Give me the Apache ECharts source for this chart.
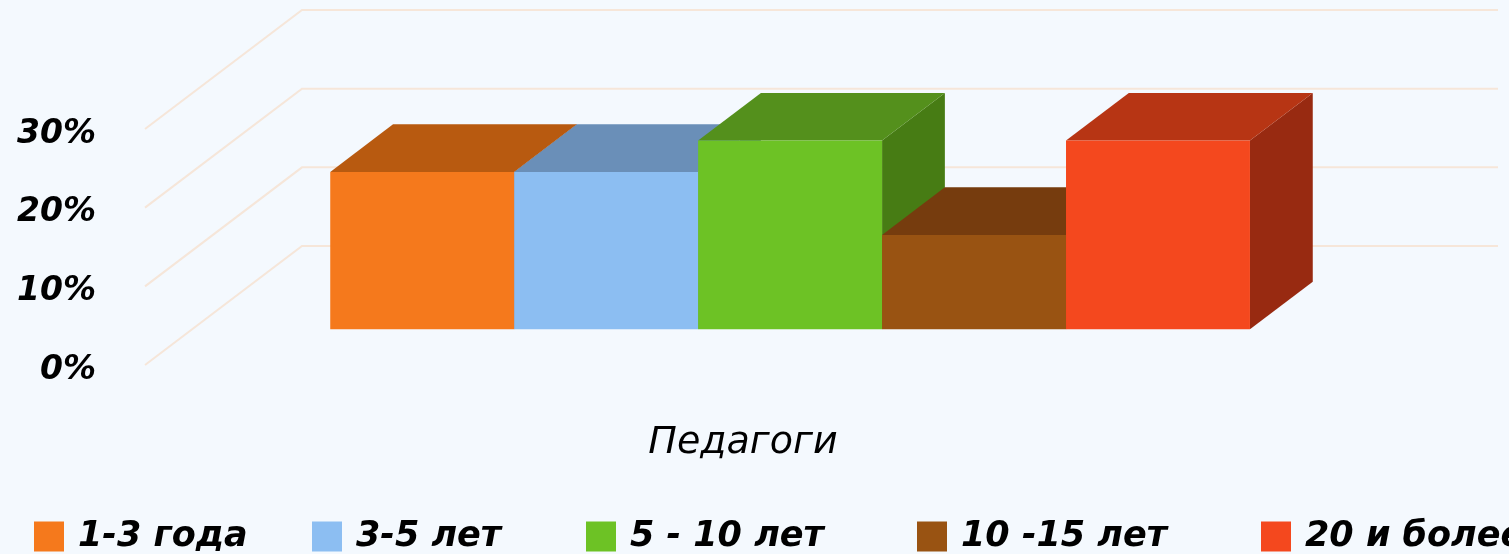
<!DOCTYPE html>
<html>
<head>
<meta charset="utf-8">
<style>
  html, body { margin: 0; padding: 0; background: #f4f9fe; overflow: hidden; }
  #main { width: 1509px; height: 554px; }
</style>
<script src="https://cdn.jsdelivr.net/npm/echarts@6/dist/echarts.min.js"></script>
</head>
<body>
<div id="main"></div>
<script>
// данные
let categories = ['Педагоги'];
let seriesNames = ['1-3 года', '3-5 лет', '5 - 10 лет', '10 -15 лет', '20 и более'];
let seriesValues = [20, 20, 24, 12, 24];
let tickValues = [0, 10, 20, 30];

// цвета граней
let frontColors = ['#f5791c', '#8cbef2', '#6dc225', '#995312', '#f4481e'];
let topColors = ['#b85a10', '#6a8fb8', '#54901c', '#763c0e', '#b73514'];
let sideColors = ['#a94f0e', '#5f82a8', '#477c14', '#6a360c', '#982a11'];
let legendLeft = [34, 312, 586, 917, 1261];

const FONT = '"DejaVu Sans"';
const WALL_DX = 157, WALL_DY = 119;
const BAR_FRONT = 0.3, BAR_DEPTH = 0.4, BAR_SHARE = 0.1538;

function polygon(points, color) {
  return {
    type: 'polygon',
    shape: { points: points },
    style: { fill: color }
  };
}

function renderWall(params, api) {
  let p = api.coord([0, api.value(0)]);
  let size = api.size([1, 0])[0];
  let x0 = p[0] - size / 2;
  return {
    type: 'polyline',
    shape: {
      points: [
        [x0, p[1]],
        [x0 + WALL_DX, p[1] - WALL_DY],
        [x0 + size + WALL_DX, p[1] - WALL_DY]
      ]
    },
    style: { fill: 'none', stroke: '#f6e6d9', lineWidth: 2 }
  };
}

function renderBar(index) {
  return function (params, api) {
    let top = api.coord([0, api.value(1)]);
    let base = api.coord([0, 0]);
    let band = api.size([1, 0])[0];
    let w = band * BAR_SHARE;
    let dx = WALL_DX * BAR_FRONT, dy = WALL_DY * BAR_FRONT;
    let ddx = WALL_DX * BAR_DEPTH, ddy = WALL_DY * BAR_DEPTH;
    let x0 = top[0] + dx + (index - seriesNames.length / 2) * w;
    let x1 = x0 + w;
    let yt = top[1] - dy, yb = base[1] - dy;
    return {
      type: 'group',
      children: [
        polygon([[x1, yt], [x1 + ddx, yt - ddy], [x1 + ddx, yb - ddy], [x1, yb]], sideColors[index]),
        polygon([[x0, yt], [x0 + ddx, yt - ddy], [x1 + ddx, yt - ddy], [x1, yt]], topColors[index]),
        polygon([[x0, yt], [x1, yt], [x1, yb], [x0, yb]], frontColors[index])
      ]
    };
  };
}

let series = [{
  name: 'wall',
  type: 'custom',
  silent: true,
  renderItem: renderWall,
  encode: { y: 0 },
  data: tickValues.map(function (t) { return [t]; }),
  z: 1
}];
seriesNames.forEach(function (name, i) {
  series.push({
    name: name,
    type: 'custom',
    renderItem: renderBar(i),
    itemStyle: { color: frontColors[i] },
    encode: { x: 0, y: 1 },
    data: [[0, seriesValues[i]]],
    z: 2 + i
  });
});

let legends = seriesNames.map(function (name, i) {
  return {
    data: [{ name: name, icon: 'rect' }],
    left: legendLeft[i],
    top: 519,
    padding: 0,
    itemWidth: 30,
    itemHeight: 30,
    selectedMode: false,
    textStyle: {
      fontFamily: FONT,
      fontSize: 35,
      fontWeight: 'bold',
      fontStyle: 'italic',
      color: '#000',
      padding: [0, 0, 0, 9]
    }
  };
});

let myChart = echarts.init(document.getElementById('main'));
myChart.setOption({
  animation: false,
  backgroundColor: '#f4f9fe',
  grid: { left: 145, right: 168, top: 129, bottom: 189 },
  legend: legends,
  xAxis: {
    type: 'category',
    data: categories,
    axisLine: { show: false },
    axisTick: { show: false },
    axisLabel: {
      margin: 59,
      fontFamily: FONT,
      fontStyle: 'italic',
      fontSize: 38,
      color: '#000'
    }
  },
  yAxis: {
    type: 'value',
    min: 0,
    max: 30,
    interval: 10,
    axisLine: { show: false },
    axisTick: { show: false },
    splitLine: { show: false },
    axisLabel: {
      margin: 49,
      formatter: '{value}%',
      fontFamily: FONT,
      fontWeight: 'bold',
      fontStyle: 'italic',
      fontSize: 33,
      color: '#000',
      verticalAlign: 'top',
      lineHeight: 10
    }
  },
  series: series
});
</script>
</body>
</html>
